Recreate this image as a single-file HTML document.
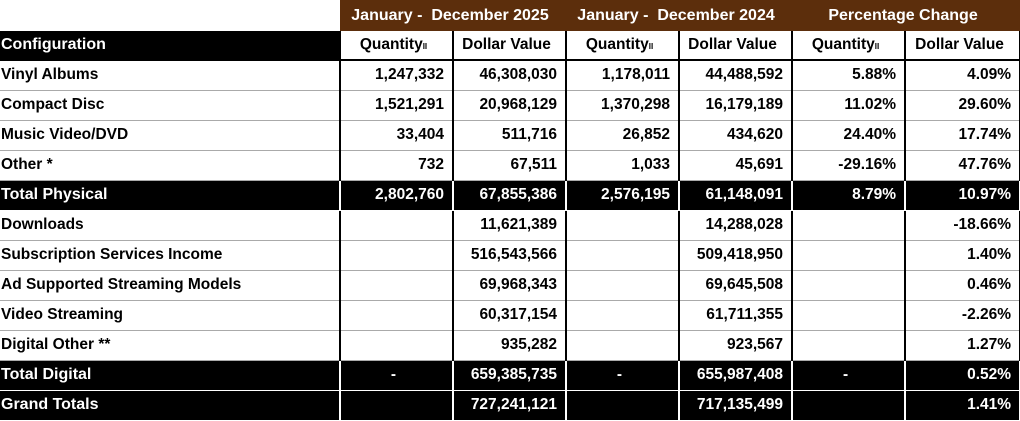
<!DOCTYPE html>
<html><head><style>
body{margin:0;background:#fff;width:1020px;height:418px;overflow:hidden;font-family:"Liberation Sans",Arial,sans-serif;font-weight:bold;font-size:15.5px;}
table{border-collapse:collapse;table-layout:fixed;position:absolute;left:0;top:0;width:1020px;}
td{padding:0 8px 0 2px;white-space:nowrap;overflow:hidden;text-align:right;border-left:2px solid #000;border-right:2px solid #000;border-bottom:1px solid #aaa;height:30px;box-sizing:border-box;}
td.l{text-align:left;border-left:none;padding-left:1px;}
tr.h td{height:31px;border:none;}
td.b{background:#5c2e0c;color:#fff;text-align:center;font-size:16px;border-left:2px solid #fff;border-right:2px solid #fff;}
tr.s td{height:29px;text-align:center;border-bottom:2px solid #000;}
tr.s td.l{background:#000;color:#fff;text-align:left;font-size:16px;}
tr.k td{background:#000;color:#fff;border-left:2px solid #fff;border-right:2px solid #fff;border-bottom:1px solid #fff;}
tr.k td.l{border-left:none;font-size:16px}
sub{font-size:8px;vertical-align:baseline}
</style></head><body>
<table>
<colgroup><col style="width:340px"><col style="width:113px"><col style="width:113px"><col style="width:113px"><col style="width:113px"><col style="width:113px"><col style="width:115px"></colgroup>
<tr class="h"><td class="l" style="background:#fff"></td><td class="b" colspan="2">January -&nbsp; December 2025</td><td class="b" colspan="2">January -&nbsp; December 2024</td><td class="b" colspan="2">Percentage Change</td></tr>
<tr class="s"><td class="l">Configuration</td><td>Quantity<sub>II</sub></td><td>Dollar Value</td><td>Quantity<sub>II</sub></td><td>Dollar Value</td><td>Quantity<sub>II</sub></td><td>Dollar Value</td></tr>
<tr><td class="l">Vinyl Albums</td><td>1,247,332</td><td>46,308,030</td><td>1,178,011</td><td>44,488,592</td><td>5.88%</td><td>4.09%</td></tr>
<tr><td class="l">Compact Disc</td><td>1,521,291</td><td>20,968,129</td><td>1,370,298</td><td>16,179,189</td><td>11.02%</td><td>29.60%</td></tr>
<tr><td class="l">Music Video/DVD</td><td>33,404</td><td>511,716</td><td>26,852</td><td>434,620</td><td>24.40%</td><td>17.74%</td></tr>
<tr><td class="l">Other *</td><td>732</td><td>67,511</td><td>1,033</td><td>45,691</td><td>-29.16%</td><td>47.76%</td></tr>
<tr class="k"><td class="l">Total Physical</td><td>2,802,760</td><td>67,855,386</td><td>2,576,195</td><td>61,148,091</td><td>8.79%</td><td>10.97%</td></tr>
<tr><td class="l">Downloads</td><td></td><td>11,621,389</td><td></td><td>14,288,028</td><td></td><td>-18.66%</td></tr>
<tr><td class="l">Subscription Services Income</td><td></td><td>516,543,566</td><td></td><td>509,418,950</td><td></td><td>1.40%</td></tr>
<tr><td class="l">Ad Supported Streaming Models</td><td></td><td>69,968,343</td><td></td><td>69,645,508</td><td></td><td>0.46%</td></tr>
<tr><td class="l">Video Streaming</td><td></td><td>60,317,154</td><td></td><td>61,711,355</td><td></td><td>-2.26%</td></tr>
<tr><td class="l">Digital Other **</td><td></td><td>935,282</td><td></td><td>923,567</td><td></td><td>1.27%</td></tr>
<tr class="k"><td class="l">Total Digital</td><td style="text-align:center">-</td><td>659,385,735</td><td style="text-align:center">-</td><td>655,987,408</td><td style="text-align:center">-</td><td>0.52%</td></tr>
<tr class="k"><td class="l">Grand Totals</td><td></td><td>727,241,121</td><td></td><td>717,135,499</td><td></td><td>1.41%</td></tr>
</table>
</body></html>
